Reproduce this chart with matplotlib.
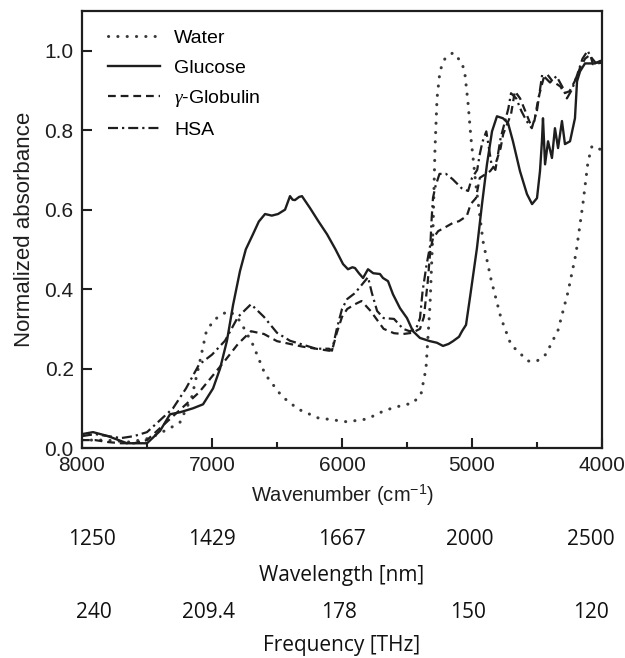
import numpy as np
import matplotlib.pyplot as plt
from matplotlib.ticker import MultipleLocator

plt.rcParams['font.family'] = ['Liberation Sans', 'DejaVu Sans']
plt.rcParams['mathtext.fontset'] = 'custom'
plt.rcParams['mathtext.rm'] = 'Liberation Sans'
plt.rcParams['mathtext.it'] = 'Liberation Serif:italic'

# absorbance spectra, wavenumber in cm^-1
water_wn = [8000, 7823, 7631, 7477, 7323, 7246, 7154, 7092, 7046, 6992, 6923, 6862,
            6785, 6685, 6592, 6462, 6338, 6185, 5962, 5808, 5669, 5531, 5454, 5392,
            5354, 5323, 5300, 5285, 5269, 5246, 5208, 5146, 5077, 5054, 5031, 5008,
            4969, 4915, 4854, 4777, 4700, 4569, 4500, 4431, 4338, 4262, 4200, 4146,
            4108, 4077, 4000]
water_abs = [0.02, 0.02, 0.015, 0.025, 0.05, 0.065, 0.13, 0.22, 0.29, 0.32, 0.337, 0.345,
             0.32, 0.26, 0.186, 0.13, 0.098, 0.076, 0.066, 0.073, 0.095, 0.108, 0.113, 0.136,
             0.2, 0.36, 0.55, 0.75, 0.88, 0.95, 0.98, 0.995, 0.97, 0.94, 0.87, 0.78,
             0.66, 0.52, 0.425, 0.327, 0.26, 0.219, 0.219, 0.236, 0.297, 0.392, 0.49, 0.617,
             0.72, 0.76, 0.75]

glucose_wn = [8000, 7915, 7800, 7654, 7500, 7400, 7323, 7246, 7146, 7069, 6992, 6938,
              6885, 6838, 6785, 6740, 6685, 6640, 6592, 6540, 6492, 6438, 6400, 6380,
              6362, 6330, 6308, 6246, 6180, 6115, 6050, 5992, 5954, 5920, 5900, 5870,
              5838, 5800, 5760, 5708, 5685, 5646, 5608, 5554, 5500, 5454, 5400, 5323,
              5270, 5223, 5180, 5146, 5100, 5077, 5046, 5015, 4962, 4923, 4885, 4846,
              4808, 4762, 4723, 4685, 4631, 4577, 4538, 4500, 4477, 4462, 4454, 4438,
              4415, 4385, 4362, 4338, 4308, 4285, 4246, 4208, 4192, 4169, 4131, 4092,
              4054, 4015, 4000]
glucose_abs = [0.035, 0.04, 0.03, 0.012, 0.012, 0.043, 0.085, 0.09, 0.10, 0.11, 0.15, 0.2,
               0.27, 0.36, 0.445, 0.5, 0.538, 0.57, 0.589, 0.585, 0.589, 0.60, 0.634, 0.625,
               0.624, 0.632, 0.634, 0.604, 0.57, 0.538, 0.50, 0.463, 0.45, 0.455, 0.453, 0.44,
               0.428, 0.45, 0.44, 0.438, 0.428, 0.42, 0.387, 0.352, 0.327, 0.294, 0.277, 0.269,
               0.265, 0.257, 0.262, 0.269, 0.28, 0.294, 0.31, 0.38, 0.503, 0.614, 0.714, 0.797,
               0.835, 0.83, 0.818, 0.772, 0.697, 0.639, 0.614, 0.629, 0.697, 0.772, 0.83, 0.714,
               0.772, 0.73, 0.805, 0.755, 0.823, 0.765, 0.772, 0.83, 0.923, 0.948, 0.968, 0.968,
               0.968, 0.974, 0.975]

globulin_wn = [8000, 7900, 7800, 7700, 7600, 7500, 7400, 7300, 7200, 7100, 7000, 6900,
               6800, 6700, 6600, 6500, 6400, 6300, 6200, 6100, 6077, 6040, 6000, 5960,
               5900, 5850, 5780, 5740, 5680, 5600, 5530, 5460, 5400, 5370, 5340, 5320,
               5300, 5260, 5220, 5150, 5100, 5040, 5010, 4970, 4940, 4860, 4820, 4780,
               4760, 4700, 4670, 4630, 4590, 4550, 4520, 4490, 4450, 4420, 4380, 4320,
               4290, 4250, 4210, 4170, 4130, 4090, 4070, 4000]
globulin_abs = [0.02, 0.02, 0.015, 0.012, 0.012, 0.02, 0.05, 0.08, 0.11, 0.14, 0.18, 0.22,
                0.262, 0.294, 0.287, 0.269, 0.262, 0.255, 0.25, 0.245, 0.245, 0.29, 0.33, 0.35,
                0.362, 0.37, 0.345, 0.327, 0.30, 0.289, 0.287, 0.29, 0.30, 0.33, 0.42, 0.5,
                0.528, 0.546, 0.553, 0.566, 0.571, 0.584, 0.614, 0.629, 0.68, 0.697, 0.714, 0.755,
                0.79, 0.84, 0.898, 0.88, 0.848, 0.815, 0.823, 0.88, 0.93, 0.94, 0.923, 0.91,
                0.893, 0.898, 0.923, 0.956, 0.98, 0.99, 0.966, 0.97]

hsa_wn = [8000, 7900, 7800, 7700, 7600, 7500, 7400, 7300, 7200, 7100, 7000, 6900,
          6800, 6700, 6600, 6500, 6400, 6300, 6200, 6100, 6077, 6040, 6000, 5960,
          5900, 5850, 5800, 5770, 5730, 5680, 5600, 5530, 5480, 5430, 5400, 5380,
          5350, 5320, 5310, 5300, 5280, 5250, 5200, 5150, 5080, 5030, 5000, 4960,
          4940, 4920, 4890, 4850, 4820, 4780, 4760, 4720, 4700, 4660, 4620, 4580,
          4540, 4500, 4460, 4400, 4350, 4300, 4270, 4230, 4190, 4150, 4110, 4090,
          4050, 4000]
hsa_abs = [0.03, 0.035, 0.03, 0.025, 0.03, 0.04, 0.07, 0.10, 0.15, 0.21, 0.235, 0.27,
           0.33, 0.362, 0.33, 0.29, 0.27, 0.26, 0.25, 0.25, 0.245, 0.30, 0.35, 0.375,
           0.39, 0.41, 0.43, 0.39, 0.345, 0.327, 0.325, 0.30, 0.294, 0.30, 0.327, 0.395,
           0.46, 0.513, 0.58, 0.63, 0.66, 0.69, 0.69, 0.677, 0.654, 0.647, 0.68, 0.70,
           0.74, 0.77, 0.797, 0.714, 0.70, 0.78, 0.805, 0.855, 0.893, 0.88, 0.848, 0.823,
           0.805, 0.85, 0.94, 0.92, 0.936, 0.906, 0.88, 0.903, 0.94, 0.98, 1.0, 0.986,
           0.97, 0.97]

wavenumber_ticks = [8000, 7000, 6000, 5000, 4000]
wavelength_labels = ['1250', '1429', '1667', '2000', '2500']
frequency_labels = ['240', '209.4', '178', '150', '120']

# centres of the extra label rows, in cm^-1
wavelength_pos = [7925, 7000, 6000, 5020, 4085]
frequency_pos = [7910, 7030, 6020, 5030, 4085]

ink = '#1e1e1e'
fig = plt.figure(figsize=(6.25, 6.58), dpi=100)
ax = fig.add_axes([0.1312, 0.3191, 0.832, 0.6642])

ax.plot(water_wn, water_abs, color='#3a3a3a', lw=2.2, linestyle=(0, (0.05, 3.0)),
        dash_capstyle='round', label='Water')
ax.plot(glucose_wn, glucose_abs, color=ink, lw=1.7, label='Glucose')
ax.plot(globulin_wn, globulin_abs, color=ink, lw=1.6, linestyle=(0, (3.5, 2.2)),
        label='$\\gamma$-Globulin')
ax.plot(hsa_wn, hsa_abs, color=ink, lw=1.6, linestyle=(0, (4.5, 1.8, 1.0, 1.8)),
        label='HSA')

ax.set_xlim(8000, 4000)
ax.set_ylim(0, 1.1)
ax.set_xticks(wavenumber_ticks)
ax.xaxis.set_minor_locator(MultipleLocator(500))
ax.set_yticks(np.arange(0, 1.01, 0.2))
ax.set_yticklabels(['%.1f' % v for v in np.arange(0, 1.01, 0.2)])
ax.tick_params(which='both', direction='in', top=False, right=False,
               labelsize=15, colors=ink, width=1.5)
ax.tick_params(which='major', length=7, pad=6)
ax.tick_params(which='minor', length=4)
for s in ax.spines.values():
    s.set_linewidth(1.6)
    s.set_color(ink)

ax.set_xlabel('Wavenumber (cm$^{-1}$)', fontsize=14.5, color=ink, labelpad=5)
ax.set_ylabel('Normalized absorbance', fontsize=16, color=ink, labelpad=7)

ax.legend(loc='upper left', frameon=False, fontsize=14, handlelength=2.7,
          labelspacing=0.6, handletextpad=0.7, borderaxespad=0.0,
          bbox_to_anchor=(0.035, 0.975))

# wavelength and frequency rows under the axis
tr = ax.get_xaxis_transform()
row_style = dict(transform=tr, ha='center', va='center', fontsize=15,
                 family='Open Sans', color='#111111')
for x, t in zip(wavelength_pos, wavelength_labels):
    ax.text(x, -0.21, t, **row_style)
ax.text(6000, -0.292, 'Wavelength [nm]', **row_style)
for x, t in zip(frequency_pos, frequency_labels):
    ax.text(x, -0.376, t, **row_style)
ax.text(6000, -0.452, 'Frequency [THz]', **row_style)

fig.savefig('out.png', dpi=100)
